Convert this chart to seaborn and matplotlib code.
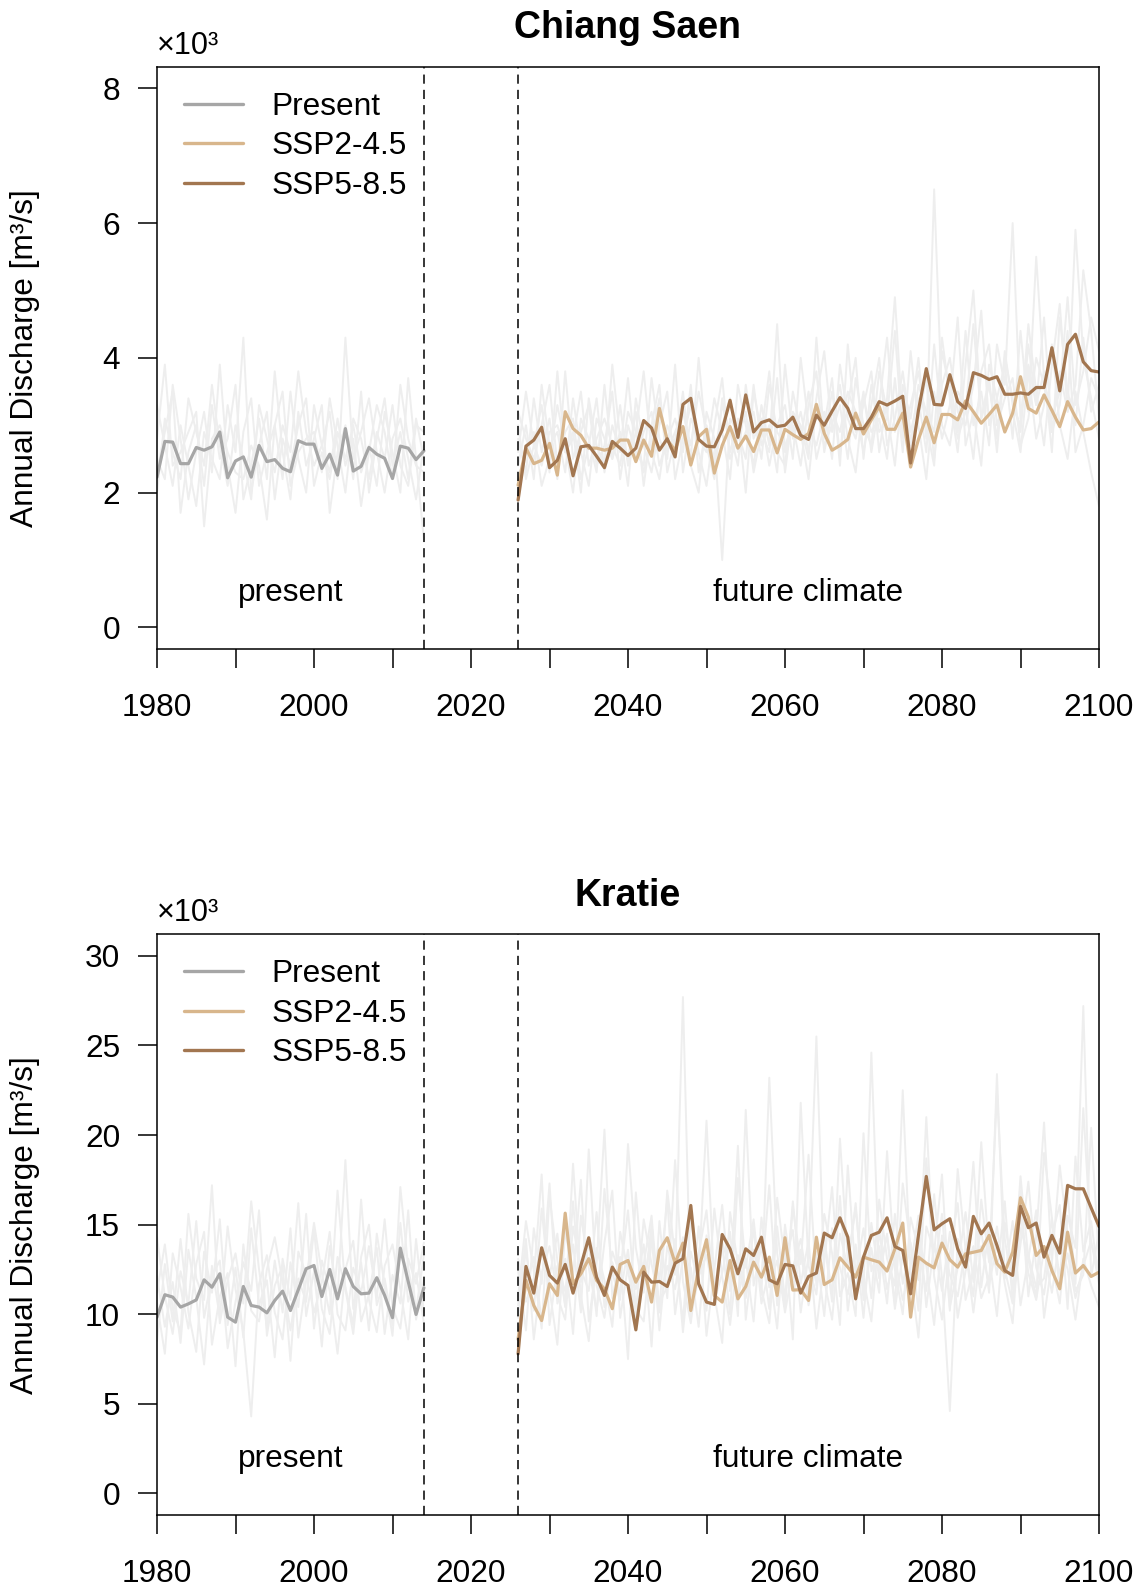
import numpy as np
import pandas as pd
import matplotlib
matplotlib.use("Agg")
import matplotlib.pyplot as plt
import seaborn as sns
from matplotlib.lines import Line2D

# ---------------------------------------------------------------- data
present_start = 1980
future_start = 2026
period_break = (2014, 2026)

scenario_labels = ["Present", "SSP2-4.5", "SSP5-8.5"]
scenario_colors = ["#A6A6A6", "#D8B68C", "#A27650"]
member_color = "#EEEEEE"

# Chiang Saen, annual discharge (x10^3 m3/s)
cs_present = [2.23, 2.76, 2.75, 2.43, 2.43, 2.67, 2.63, 2.68, 2.90, 2.22,
              2.47, 2.53, 2.23, 2.70, 2.46, 2.49, 2.36, 2.31, 2.77, 2.72,
              2.72, 2.36, 2.57, 2.26, 2.95, 2.32, 2.39, 2.67, 2.57, 2.51,
              2.21, 2.69, 2.66, 2.49, 2.62]
cs_ssp245 = [2.11, 2.66, 2.43, 2.48, 2.73, 2.26, 3.20, 2.95, 2.85, 2.66,
             2.66, 2.63, 2.66, 2.78, 2.78, 2.46, 2.78, 2.54, 3.25, 2.78,
             2.63, 2.98, 2.41, 2.83, 2.94, 2.29, 2.70, 2.98, 2.66, 2.84,
             2.61, 2.93, 2.93, 2.59, 2.94,
             2.86, 2.79, 2.88, 3.31, 2.88, 2.63, 2.70, 2.79, 3.18, 2.87,
             3.08, 3.28, 2.94, 2.94, 3.18, 2.38, 2.79, 3.12, 2.74, 3.16,
             3.16, 3.08, 3.36, 3.20, 3.03, 3.16, 3.30, 2.90, 3.18, 3.72,
             3.25, 3.18, 3.45, 3.22, 2.98, 3.35, 3.12, 2.93, 2.95, 3.05]
cs_ssp585 = [1.89, 2.69, 2.78, 2.97, 2.37, 2.48, 2.80, 2.25, 2.68, 2.70,
             2.54, 2.37, 2.76, 2.66, 2.55, 2.66, 3.07, 2.96, 2.63, 2.80,
             2.53, 3.31, 3.40, 2.79, 2.69, 2.68, 2.93, 3.37, 2.82, 3.45,
             2.90, 3.04, 3.08, 2.98, 3.00,
             3.12, 2.85, 2.79, 3.15, 3.00, 3.21, 3.41, 3.25, 2.95, 2.95,
             3.12, 3.35, 3.30, 3.36, 3.43, 2.44, 3.22, 3.84, 3.31, 3.30,
             3.75, 3.35, 3.25, 3.78, 3.74, 3.68, 3.72, 3.46, 3.46, 3.48,
             3.46, 3.56, 3.56, 4.15, 3.51, 4.20, 4.35, 3.94, 3.81, 3.79]

# individual model runs behind the ensemble means
cs_present_run1 = [2.0, 3.1, 2.6, 2.2, 3.4, 2.9, 2.4, 3.6, 2.7, 2.1, 3.0, 2.5, 1.9, 3.3, 2.8, 2.3, 3.0, 2.6,
                   3.8, 2.9, 2.4, 2.7, 3.2, 2.2, 4.3, 2.5, 2.9, 3.4, 2.6, 2.0, 2.8, 3.1, 2.5, 1.9, 2.7]
cs_present_run2 = [2.5, 2.2, 3.6, 2.8, 1.9, 2.6, 3.2, 2.3, 3.9, 2.4, 1.7, 2.9, 3.4, 2.1, 2.6, 3.0, 2.2, 3.5,
                   2.5, 2.0, 3.3, 2.7, 2.3, 3.1, 2.4, 2.8, 1.8, 2.6, 3.3, 2.9, 2.2, 3.6, 2.8, 2.4, 2.3]
cs_present_run3 = [3.3, 2.7, 2.1, 3.0, 2.4, 1.8, 2.9, 2.5, 2.2, 3.3, 2.6, 4.3, 2.0, 2.7, 3.2, 1.9, 2.8, 2.4,
                   3.0, 3.4, 2.1, 2.6, 2.2, 2.9, 2.5, 3.0, 2.3, 2.7, 2.1, 3.2, 2.6, 2.0, 3.7, 2.5, 1.3]
cs_present_run4 = [2.8, 3.9, 2.4, 2.6, 2.9, 3.2, 1.5, 2.8, 3.0, 2.6, 2.3, 2.2, 2.7, 2.4, 1.6, 3.0, 3.5, 2.1,
                   2.6, 2.8, 2.9, 2.3, 3.4, 2.7, 2.0, 3.1, 2.8, 2.2, 2.9, 2.5, 3.3, 2.4, 2.1, 3.0, 2.9]
cs_present_run5 = [2.3, 2.9, 3.5, 1.7, 2.6, 3.0, 2.1, 3.3, 2.5, 2.8, 3.6, 1.9, 2.4, 3.1, 2.2, 3.8, 2.6, 1.9,
                   3.2, 2.4, 2.8, 3.3, 1.7, 2.6, 3.0, 2.2, 3.5, 2.0, 2.8, 3.4, 2.4, 2.9, 2.2, 3.1, 2.5]
cs_future_run1 = [2.4, 3.0, 2.2, 3.6, 2.7, 2.9, 2.3, 3.4, 2.6, 2.1, 3.1, 2.8, 2.5, 3.3, 2.4, 2.9, 3.8, 2.6, 2.2,
                  3.0, 2.7, 3.5, 2.4, 2.0, 3.2, 2.8, 1.0, 3.1, 2.9, 2.5, 3.6, 2.7, 3.0, 2.3, 3.9, 2.8, 3.2, 2.6,
                  3.4, 4.1, 2.9, 3.3, 2.5, 3.7, 3.0, 2.7, 3.8, 3.2, 2.4, 3.6, 3.1, 4.0, 2.8, 6.5, 3.3, 3.7, 2.9,
                  4.4, 3.0, 3.5, 2.7, 4.2, 3.6, 6.0, 3.1, 3.9, 3.3, 4.6, 2.9, 3.8, 3.2, 5.9, 4.0, 3.4, 2.8]
cs_future_run2 = [2.8, 2.3, 3.4, 2.6, 3.1, 2.2, 3.8, 2.5, 2.9, 3.3, 2.4, 2.7, 3.5, 2.2, 3.0, 2.6, 2.4, 3.7, 2.8,
                  2.5, 3.9, 2.3, 3.1, 2.8, 2.6, 3.4, 2.9, 2.2, 3.6, 3.0, 2.4, 3.3, 2.7, 4.5, 2.6, 3.1, 2.8, 3.5,
                  2.5, 3.0, 3.7, 2.4, 4.2, 2.9, 3.3, 3.8, 2.6, 3.4, 4.9, 3.0, 2.7, 3.6, 3.2, 2.9, 4.3, 3.4, 2.6,
                  3.9, 5.0, 3.1, 3.6, 2.8, 4.1, 3.3, 3.0, 4.5, 3.5, 2.7, 3.9, 4.8, 3.2, 3.6, 5.3, 4.4, 3.1]
cs_future_run3 = [1.9, 2.6, 2.9, 2.1, 2.5, 3.3, 2.7, 2.0, 3.1, 2.8, 2.3, 3.6, 2.5, 2.9, 2.1, 3.4, 2.7, 2.3, 3.0,
                  3.5, 2.2, 2.8, 3.3, 2.6, 2.1, 3.0, 3.7, 2.5, 2.8, 3.2, 2.3, 2.9, 3.8, 2.6, 2.4, 3.5, 2.9, 2.2,
                  3.3, 2.7, 3.0, 3.6, 2.8, 2.3, 3.4, 2.9, 3.1, 2.5, 3.7, 2.6, 4.1, 3.0, 2.2, 3.5, 2.8, 3.3, 4.6,
                  2.7, 3.2, 2.4, 3.9, 3.4, 2.9, 3.2, 2.6, 3.8, 2.8, 3.3, 4.2, 3.0, 2.5, 3.5, 2.9, 2.3, 1.8]
cs_future_run4 = [3.2, 2.8, 2.5, 3.0, 3.6, 2.4, 2.9, 3.1, 2.2, 2.7, 3.4, 2.3, 3.0, 2.6, 3.7, 2.5, 2.9, 3.2, 2.4,
                  2.8, 3.1, 2.6, 3.6, 2.3, 3.0, 2.5, 3.3, 2.9, 2.4, 3.6, 2.8, 3.1, 2.4, 3.0, 3.3, 2.5, 4.0, 3.0,
                  2.7, 3.2, 2.5, 3.9, 3.1, 2.8, 3.5, 2.6, 3.3, 4.3, 2.9, 3.4, 2.8, 3.1, 3.7, 2.5, 3.6, 4.0, 3.2,
                  3.0, 3.6, 4.7, 3.0, 3.4, 3.9, 2.8, 4.4, 3.2, 5.5, 3.7, 3.1, 3.5, 4.9, 3.3, 3.8, 4.6, 4.1]
cs_future_run5 = [2.6, 3.5, 2.7, 2.4, 2.9, 3.0, 2.6, 2.8, 3.5, 2.4, 2.8, 3.1, 2.7, 2.4, 3.2, 2.9, 2.3, 2.8, 3.4,
                  2.6, 2.9, 3.2, 2.7, 3.5, 2.9, 2.4, 3.0, 3.4, 2.6, 2.9, 3.2, 2.5, 3.6, 2.9, 2.7, 3.0, 2.4, 3.3,
                  3.8, 2.6, 3.2, 2.9, 3.5, 3.2, 2.6, 3.3, 4.0, 2.7, 3.1, 3.8, 2.9, 3.4, 2.6, 4.2, 3.0, 2.7, 3.5,
                  3.3, 2.5, 3.8, 4.2, 3.0, 3.4, 3.7, 2.7, 3.1, 4.0, 3.6, 2.9, 3.3, 4.4, 2.6, 3.0, 3.7, 3.4]
cs_future_run6 = [3.0, 2.2, 2.7, 3.3, 2.3, 3.8, 2.6, 2.9, 2.0, 3.4, 2.7, 2.4, 3.9, 2.8, 2.5, 3.2, 2.1, 3.0, 3.6,
                  2.3, 2.8, 3.3, 2.5, 4.0, 2.7, 2.2, 3.4, 2.6, 3.1, 2.0, 3.5, 2.9, 2.6, 3.7, 2.3, 3.2, 3.0, 2.5,
                  4.3, 2.8, 3.5, 2.6, 3.3, 4.0, 2.5, 3.6, 2.9, 3.1, 4.4, 2.8, 3.3, 3.8, 3.0, 2.4, 4.1, 3.5, 2.8,
                  3.2, 4.5, 3.1, 3.7, 2.6, 4.0, 3.4, 2.9, 4.2, 3.3, 3.8, 2.6, 4.6, 3.5, 3.0, 4.3, 3.2, 3.6]

# Kratie, annual discharge (x10^3 m3/s)
kr_present = [9.84, 11.09, 10.96, 10.40, 10.58, 10.80, 11.92, 11.51, 12.26, 9.84,
              9.56, 11.55, 10.49, 10.40, 10.08, 10.77, 11.29, 10.21, 11.37, 12.54,
              12.72, 10.99, 12.50, 10.86, 12.54, 11.55, 11.14, 11.18, 12.04, 11.05,
              9.81, 13.69, 11.83, 9.99, 11.48]
kr_ssp245 = [8.60, 11.89, 10.49, 9.65, 11.70, 11.05, 15.64, 11.70, 12.26, 13.10,
             11.89, 11.42, 10.31, 12.78, 13.00, 11.79, 12.67, 10.68, 13.56, 14.27,
             12.85, 13.97, 10.21, 12.54, 14.16, 11.05, 10.68, 13.00, 10.86, 11.55,
             12.91, 12.07, 13.19, 11.05, 14.27,
             11.35, 11.37, 10.77, 14.30, 11.66, 11.92, 13.15, 12.63, 12.07, 13.19,
             13.04, 12.91, 12.41, 13.65, 15.09, 9.84, 13.19, 12.85, 12.59, 13.97,
             13.04, 12.63, 13.37, 13.46, 13.56, 14.40, 12.82, 12.35, 13.46, 16.50,
             15.42, 13.28, 13.78, 12.44, 11.42, 14.58, 12.30, 12.72, 12.11, 12.35]
kr_ssp585 = [7.79, 12.67, 11.18, 13.71, 12.17, 11.74, 12.78, 11.18, 12.72, 14.27,
             12.07, 11.05, 12.63, 11.92, 11.61, 9.13, 12.35, 11.79, 11.83, 11.55,
             12.85, 13.10, 16.07, 11.70, 10.68, 10.55, 14.45, 13.65, 12.26, 13.65,
             13.28, 14.30, 11.92, 11.70, 12.78,
             12.70, 11.18, 12.11, 12.30, 14.53, 14.27, 15.38, 14.30, 10.86, 13.19,
             14.40, 14.58, 15.38, 13.78, 13.56, 11.14, 14.40, 17.69, 14.71, 15.05,
             15.33, 13.65, 12.63, 15.46, 14.49, 15.09, 13.84, 12.44, 12.17, 16.02,
             14.83, 15.09, 13.19, 14.40, 13.41, 17.19, 17.00, 17.00, 15.94, 14.90]

kr_present_run1 = [8.5, 12.8, 9.6, 14.2, 10.1, 7.9, 13.5, 11.2, 15.3, 9.4, 12.6, 8.7, 14.8, 10.5, 11.9, 7.6, 13.1,
                   10.8, 16.2, 9.9, 12.4, 8.2, 13.8, 11.0, 18.6, 10.3, 12.9, 9.1, 14.5, 11.6, 8.8, 15.1, 10.7, 12.3, 9.5]
kr_present_run2 = [12.1, 9.3, 11.8, 8.4, 13.6, 10.9, 7.2, 12.7, 9.8, 14.9, 11.4, 9.0, 4.3, 11.7, 13.3, 10.1, 8.6,
                   12.9, 10.4, 15.6, 9.2, 13.0, 11.3, 7.8, 12.5, 14.1, 9.6, 11.1, 13.7, 8.9, 12.2, 10.6, 15.8, 9.7, 11.9]
kr_present_run3 = [10.6, 7.8, 13.4, 11.5, 9.2, 12.8, 14.6, 8.3, 11.0, 12.3, 7.1, 13.9, 10.2, 9.6, 12.5, 14.3, 11.8,
                   9.1, 12.0, 10.7, 14.7, 10.3, 8.9, 13.2, 11.5, 9.4, 16.4, 10.8, 9.0, 12.7, 13.9, 11.4, 8.6, 14.2, 10.1]
kr_present_run4 = [14.3, 11.0, 8.9, 12.4, 10.6, 15.2, 9.8, 12.1, 13.0, 8.1, 10.7, 12.9, 11.3, 15.8, 8.8, 11.6, 12.7,
                   7.4, 13.5, 12.2, 10.1, 11.8, 14.6, 10.0, 9.1, 12.6, 11.2, 13.8, 10.9, 15.3, 10.4, 9.2, 13.1, 11.7, 14.0]
kr_present_run5 = [11.2, 13.9, 10.3, 9.0, 15.6, 12.0, 10.8, 17.2, 9.5, 11.9, 13.4, 10.6, 16.3, 12.5, 9.3, 13.0, 10.1,
                   14.8, 8.7, 11.9, 15.1, 12.3, 10.0, 16.9, 11.4, 8.9, 13.2, 15.0, 10.5, 12.0, 9.4, 17.1, 12.6, 10.2, 13.3]
kr_future_run1 = [9.8, 13.6, 10.2, 15.9, 11.4, 8.3, 14.7, 12.1, 17.5, 9.6, 12.8, 20.3, 10.9, 13.2, 7.5, 16.8, 11.6,
                  14.4, 9.1, 13.8, 12.2, 27.7, 10.6, 14.9, 8.8, 12.5, 16.1, 11.3, 19.4, 9.7, 13.6, 12.0, 17.2, 10.5,
                  14.1, 8.6, 21.8, 12.7, 11.1, 15.6, 13.4, 9.4, 18.3, 12.2, 14.8, 10.9, 16.4, 13.1, 11.6, 22.5, 12.3,
                  8.7, 14.9, 13.5, 17.8, 10.4, 12.6, 15.7, 11.8, 19.6, 13.2, 9.9, 15.1, 12.4, 16.9, 11.0, 14.3, 20.7,
                  12.8, 10.6, 15.5, 13.7, 27.2, 12.1, 14.6]
kr_future_run2 = [12.4, 9.1, 14.8, 11.7, 17.3, 10.6, 13.1, 8.9, 15.5, 12.6, 10.2, 14.0, 16.9, 9.8, 12.7, 11.4, 13.9,
                  8.2, 15.2, 10.9, 18.6, 11.8, 9.5, 13.4, 15.8, 10.7, 12.3, 14.6, 9.9, 21.4, 11.6, 13.8, 10.3, 16.5,
                  12.9, 14.7, 10.1, 13.3, 25.5, 11.9, 9.7, 14.5, 12.6, 16.2, 10.8, 13.7, 11.2, 19.1, 12.5, 10.0, 15.4,
                  13.6, 11.3, 16.7, 12.0, 4.6, 14.2, 13.0, 18.5, 11.5, 14.8, 12.2, 16.3, 10.7, 13.9, 17.4, 12.6, 11.1,
                  14.4, 16.1, 10.3, 18.8, 13.5, 15.2, 11.8]
kr_future_run3 = [7.9, 11.5, 13.2, 9.6, 12.1, 14.5, 10.4, 16.3, 11.0, 8.5, 13.7, 11.9, 9.3, 14.6, 12.4, 10.1, 15.3,
                  12.8, 10.7, 11.5, 14.2, 9.0, 13.5, 11.7, 10.2, 15.9, 12.1, 9.4, 13.3, 11.0, 14.8, 10.6, 12.5, 9.2,
                  15.0, 11.8, 13.6, 10.5, 12.8, 14.3, 11.1, 16.6, 10.2, 13.4, 12.0, 9.6, 14.7, 11.4, 13.2, 10.8, 12.7,
                  15.5, 10.4, 13.9, 11.3, 14.6, 9.8, 12.4, 13.8, 10.9, 12.1, 14.9, 11.7, 9.5, 15.6, 12.3, 10.8, 13.6,
                  11.2, 14.2, 12.5, 9.7, 13.1, 11.6, 10.4]
kr_future_run4 = [13.1, 10.7, 12.0, 17.8, 9.4, 12.7, 11.3, 13.9, 10.1, 19.2, 11.6, 9.8, 13.5, 12.2, 15.8, 10.3, 9.6,
                  14.1, 11.9, 16.4, 10.0, 13.2, 12.6, 9.3, 14.4, 11.1, 8.4, 15.7, 12.8, 10.9, 13.6, 11.4, 9.5, 14.9,
                  10.8, 16.3, 11.7, 14.1, 9.2, 12.9, 17.1, 11.0, 12.3, 9.9, 20.1, 12.4, 13.8, 10.6, 15.6, 11.7, 14.0,
                  10.2, 18.7, 12.1, 9.7, 13.4, 16.2, 10.8, 12.5, 14.7, 11.2, 23.4, 12.0, 15.2, 10.5, 13.1, 15.8, 9.8,
                  12.9, 18.3, 14.4, 11.3, 12.2, 20.4, 13.0]
kr_future_run5 = [10.5, 14.2, 8.6, 12.3, 13.8, 11.0, 9.7, 14.9, 12.5, 11.3, 15.7, 10.4, 12.9, 11.1, 13.6, 9.5, 12.8,
                  15.5, 10.2, 12.7, 11.4, 14.3, 9.8, 12.1, 13.3, 10.8, 14.0, 12.6, 10.9, 13.1, 9.6, 15.4, 11.5, 13.0,
                  10.1, 12.6, 14.2, 11.3, 13.5, 9.9, 14.8, 12.6, 11.1, 13.9, 9.8, 15.1, 12.0, 14.5, 10.3, 13.3, 11.8,
                  14.1, 12.7, 9.4, 14.4, 12.2, 11.0, 13.7, 10.1, 13.8, 11.6, 14.0, 12.5, 10.6, 14.8, 13.3, 11.5, 12.0,
                  15.3, 11.4, 13.4, 10.9, 12.7, 14.1, 11.7]
kr_future_run6 = [11.0, 15.2, 12.4, 9.2, 16.6, 13.0, 10.5, 18.4, 11.8, 14.0, 9.9, 17.0, 12.3, 10.8, 19.5, 13.7, 11.2,
                  15.0, 10.1, 16.9, 13.3, 9.6, 15.4, 12.2, 20.8, 11.5, 13.9, 10.0, 17.6, 12.6, 15.3, 11.1, 23.2, 13.4,
                  10.4, 16.0, 12.8, 18.9, 11.6, 14.1, 10.7, 19.8, 13.0, 15.9, 11.3, 24.6, 12.5, 14.4, 10.6, 17.3, 13.8,
                  11.9, 21.0, 12.4, 15.6, 10.2, 18.1, 13.6, 11.0, 16.4, 12.9, 22.3, 14.2, 11.4, 17.7, 13.1, 10.9, 19.0,
                  15.4, 12.0, 16.8, 11.7, 21.5, 13.9, 12.6]

cs_yticks = [0, 2, 4, 6, 8]
kr_yticks = [0, 5, 10, 15, 20, 25, 30]
xticks = list(range(1980, 2101, 10))
xticklabels = [str(y) if y % 20 == 0 else "" for y in xticks]

# ---------------------------------------------------------------- style
sns.set_style("ticks")
plt.rcParams["font.family"] = ["Liberation Sans", "DejaVu Sans"]
for key in ("text.color", "axes.labelcolor", "xtick.color", "ytick.color", "axes.edgecolor"):
    plt.rcParams[key] = "black"
FS = 22.8


def runs_frame(runs, start):
    rows = []
    for i, r in enumerate(runs):
        for j, v in enumerate(r):
            rows.append({"year": start + j, "q": v, "run": i})
    return pd.DataFrame(rows)


def series(vals, start):
    return pd.DataFrame({"year": start + np.arange(len(vals)), "q": vals})


def draw_panel(ax, present, ssp245, ssp585, pres_runs, fut_runs, yticks):
    top = yticks[-1]
    for runs, start in ((pres_runs, present_start), (fut_runs, future_start)):
        sns.lineplot(data=runs_frame(runs, start), x="year", y="q", units="run",
                     estimator=None, color=member_color, lw=1.4, ax=ax, legend=False)
    line_kw = dict(lw=2.3, solid_joinstyle="round", solid_capstyle="round", legend=False)
    sns.lineplot(data=series(present, present_start), x="year", y="q",
                 color=scenario_colors[0], ax=ax, **line_kw)
    sns.lineplot(data=series(ssp245, future_start), x="year", y="q",
                 color=scenario_colors[1], ax=ax, **line_kw)
    sns.lineplot(data=series(ssp585, future_start), x="year", y="q",
                 color=scenario_colors[2], ax=ax, **line_kw)

    for xb in period_break:
        ax.axvline(xb, color="black", lw=1.1, ls=(0, (6, 4)))

    ax.set_xlim(1980, 2100)
    ax.set_ylim(-0.04 * top, 1.04 * top)
    ax.set_xticks(xticks)
    ax.set_xticklabels(xticklabels)
    ax.set_yticks(yticks)
    ax.set_xlabel("")
    ax.set_ylabel("")
    ax.tick_params(axis="both", direction="out", length=13.5, width=1.1,
                   labelsize=FS, color="black", labelcolor="black")
    ax.tick_params(axis="x", pad=18)
    ax.tick_params(axis="y", pad=13)
    for sp in ax.spines.values():
        sp.set_visible(True)
        sp.set_linewidth(1.1)
        sp.set_color("black")

    ax.text(1997, 0.096, "present", transform=ax.get_xaxis_transform(),
            ha="center", va="center", fontsize=FS)
    ax.text(2063, 0.096, "future climate", transform=ax.get_xaxis_transform(),
            ha="center", va="center", fontsize=FS)

    handles = [Line2D([], [], color=c, lw=2.4) for c in scenario_colors]
    ax.legend(handles, scenario_labels, loc="upper left",
              bbox_to_anchor=(0.0287, 0.957), frameon=False, fontsize=FS,
              borderpad=0, borderaxespad=0, handlelength=1.85,
              handletextpad=0.9, labelspacing=0.3)


W, H = 1142, 1589
fig = plt.figure(figsize=(W / 100, H / 100), dpi=100)

left = 157 / W
width = (1099 - 157) / W
ax1 = fig.add_axes([left, 1 - 649 / H, width, (649 - 66.7) / H])
ax2 = fig.add_axes([left, 1 - 1515 / H, width, (1515 - 934.3) / H])

draw_panel(ax1, cs_present, cs_ssp245, cs_ssp585,
           [cs_present_run1, cs_present_run2, cs_present_run3, cs_present_run4, cs_present_run5],
           [cs_future_run1, cs_future_run2, cs_future_run3, cs_future_run4, cs_future_run5,
            cs_future_run6],
           cs_yticks)
draw_panel(ax2, kr_present, kr_ssp245, kr_ssp585,
           [kr_present_run1, kr_present_run2, kr_present_run3, kr_present_run4, kr_present_run5],
           [kr_future_run1, kr_future_run2, kr_future_run3, kr_future_run4, kr_future_run5,
            kr_future_run6],
           kr_yticks)

cx = (157 + 1099) / 2 / W
for title, ty, boxtop, ymid in (("Chiang Saen", 28, 66.7, 358), ("Kratie", 896, 934.3, 1225)):
    fig.text(cx, 1 - ty / H, title, ha="center", va="center",
             fontsize=27, fontweight="bold")
    fig.text(157 / W, 1 - (boxtop - 21) / H, "\u00d710\u00b3", ha="left", va="center",
             fontsize=22)
    fig.text(25 / W, 1 - ymid / H, "Annual Discharge [m\u00b3/s]", ha="center",
             va="center", rotation=90, fontsize=FS)

fig.savefig("out.png", dpi=100)
